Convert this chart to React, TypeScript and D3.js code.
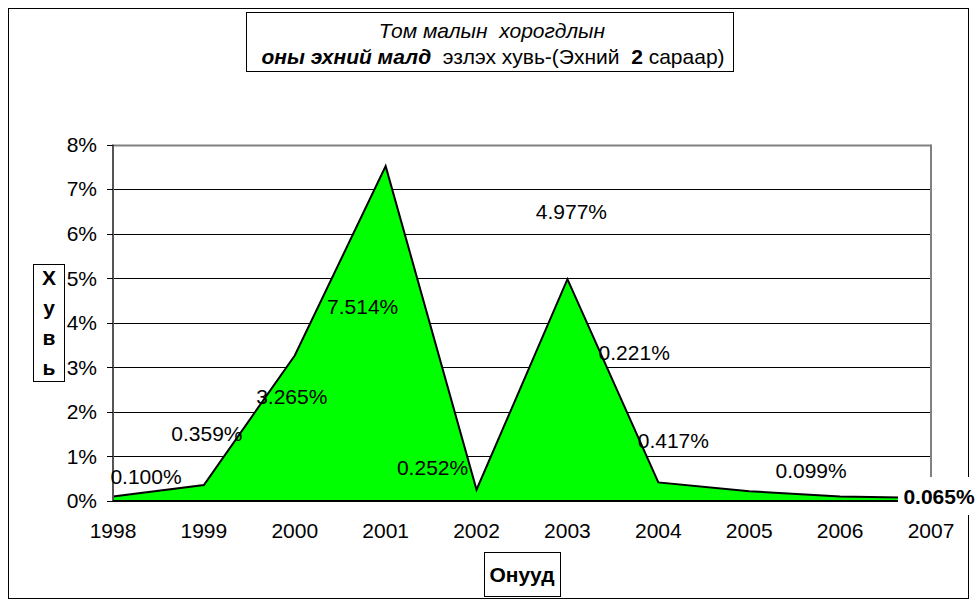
import React from "react";
import * as d3 from "d3";

const years = ["1998", "1999", "2000", "2001", "2002", "2003", "2004", "2005", "2006", "2007"];
const shares = [0.1, 0.359, 3.265, 7.514, 0.252, 4.977, 0.417, 0.221, 0.099, 0.065];
const labelTexts = ["0.100%", "0.359%", "3.265%", "7.514%", "0.252%", "4.977%", "0.417%", "0.221%", "0.099%", "0.065%"];
const yTicks = [0, 1, 2, 3, 4, 5, 6, 7, 8];

// layout: label offsets from each point (px), as placed in the original
const labelOffsets: [number, number][] = [
  [33, -20], [3, -51], [-3, 41], [-23, 140], [-44, -22],
  [4, -68], [15, -42], [-115, -139], [-29, -26], [8, -1],
];

const W = 977, H = 607;
const FONT = "'Liberation Sans', Arial, sans-serif";
const FS = 21;

export default function App() {
  const left = 113, right = 931, top = 144.5, bottom = 501;
  const x = d3.scalePoint<string>().domain(years).range([left, right]);
  const y = d3.scaleLinear().domain([0, 8]).range([bottom, top]);
  const pts = years.map((yr, i) => ({ yr, v: shares[i] }));
  const area = d3.area<{ yr: string; v: number }>()
    .x(d => x(d.yr)!).y0(y(0)).y1(d => y(d.v));
  const line = d3.line<{ yr: string; v: number }>()
    .x(d => x(d.yr)!).y(d => y(d.v));

  return (
    <svg width={W} height={H} style={{ position: "absolute", left: 0, top: 0, background: "#fff" }} fontFamily={FONT}>
      <rect x={0} y={0} width={W} height={H} fill="#fff" />
      <rect x={8.5} y={8.5} width={960} height={590} fill="none" stroke="#000" strokeWidth={1} />

      {/* gridlines */}
      {yTicks.map(t => (
        <line key={t} x1={left} x2={right} y1={Math.round(y(t)) + 0.5} y2={Math.round(y(t)) + 0.5}
          stroke={t === 8 ? "#808080" : "#000"} strokeWidth={t === 8 ? 2 : 1} />
      ))}
      <line x1={right} x2={right} y1={top} y2={bottom} stroke="#808080" strokeWidth={2} />

      {/* area */}
      <path d={area(pts)!} fill="#00FF00" stroke="none" />
      <path d={line(pts)!} fill="none" stroke="#000" strokeWidth={2} strokeLinejoin="miter" />

      {/* axes */}
      <line x1={left} x2={left} y1={top} y2={bottom} stroke="#555" strokeWidth={2} />
      <line x1={left} x2={right} y1={bottom} y2={bottom} stroke="#000" strokeWidth={2} />
      {yTicks.map(t => (
        <g key={t}>
          <line x1={107} x2={left} y1={Math.round(y(t)) + 0.5} y2={Math.round(y(t)) + 0.5} stroke="#000" strokeWidth={1} />
          <text x={97} y={y(t)} dy="0.35em" textAnchor="end" fontSize={FS} fill="#000">{t}%</text>
        </g>
      ))}
      {years.map(yr => (
        <text key={yr} x={x(yr)} y={531} dy="0.35em" textAnchor="middle" fontSize={FS} fill="#000">{yr}</text>
      ))}

      {/* data labels */}
      {pts.map((p, i) => {
        const last = i === pts.length - 1;
        const cx = x(p.yr)! + labelOffsets[i][0];
        const cy = y(p.v) + labelOffsets[i][1];
        return (
          <g key={i}>
            {last && <rect x={898} y={477} width={79} height={38} fill="#fff" />}
            <text x={cx} y={cy} dy="0.35em" textAnchor="middle" fontSize={FS}
              fontWeight={last ? "bold" : "normal"} fill="#000">{labelTexts[i]}</text>
          </g>
        );
      })}

      {/* title */}
      <rect x={246.5} y={12.5} width={487} height={59} fill="#fff" stroke="#000" strokeWidth={1} />
      <text x={492} y={31} dy="0.35em" textAnchor="middle" fontSize={FS} fontStyle="italic" style={{ whiteSpace: "pre" }}>
        {"Том малын  хорогдлын"}
      </text>
      <text x={493} y={57} dy="0.35em" textAnchor="middle" fontSize={FS} style={{ whiteSpace: "pre" }}>
        <tspan fontWeight="bold" fontStyle="italic">оны эхний малд</tspan>
        <tspan>{"  эзлэх хувь-(Эхний  "}</tspan>
        <tspan fontWeight="bold">2</tspan>
        <tspan>{" сараар)"}</tspan>
      </text>

      {/* y axis title */}
      <rect x={33.5} y={264.5} width={31} height={117} fill="#fff" stroke="#000" strokeWidth={1} />
      {["Х", "у", "в", "ь"].map((c, i) => (
        <text key={c} x={49} y={278 + i * 30} dy="0.35em" textAnchor="middle" fontSize={FS} fontWeight="bold">{c}</text>
      ))}

      {/* x axis title */}
      <rect x={484.5} y={552.5} width={76} height={44} fill="#fff" stroke="#000" strokeWidth={1} />
      <text x={522} y={575} dy="0.35em" textAnchor="middle" fontSize={FS} fontWeight="bold">Онууд</text>
    </svg>
  );
}
